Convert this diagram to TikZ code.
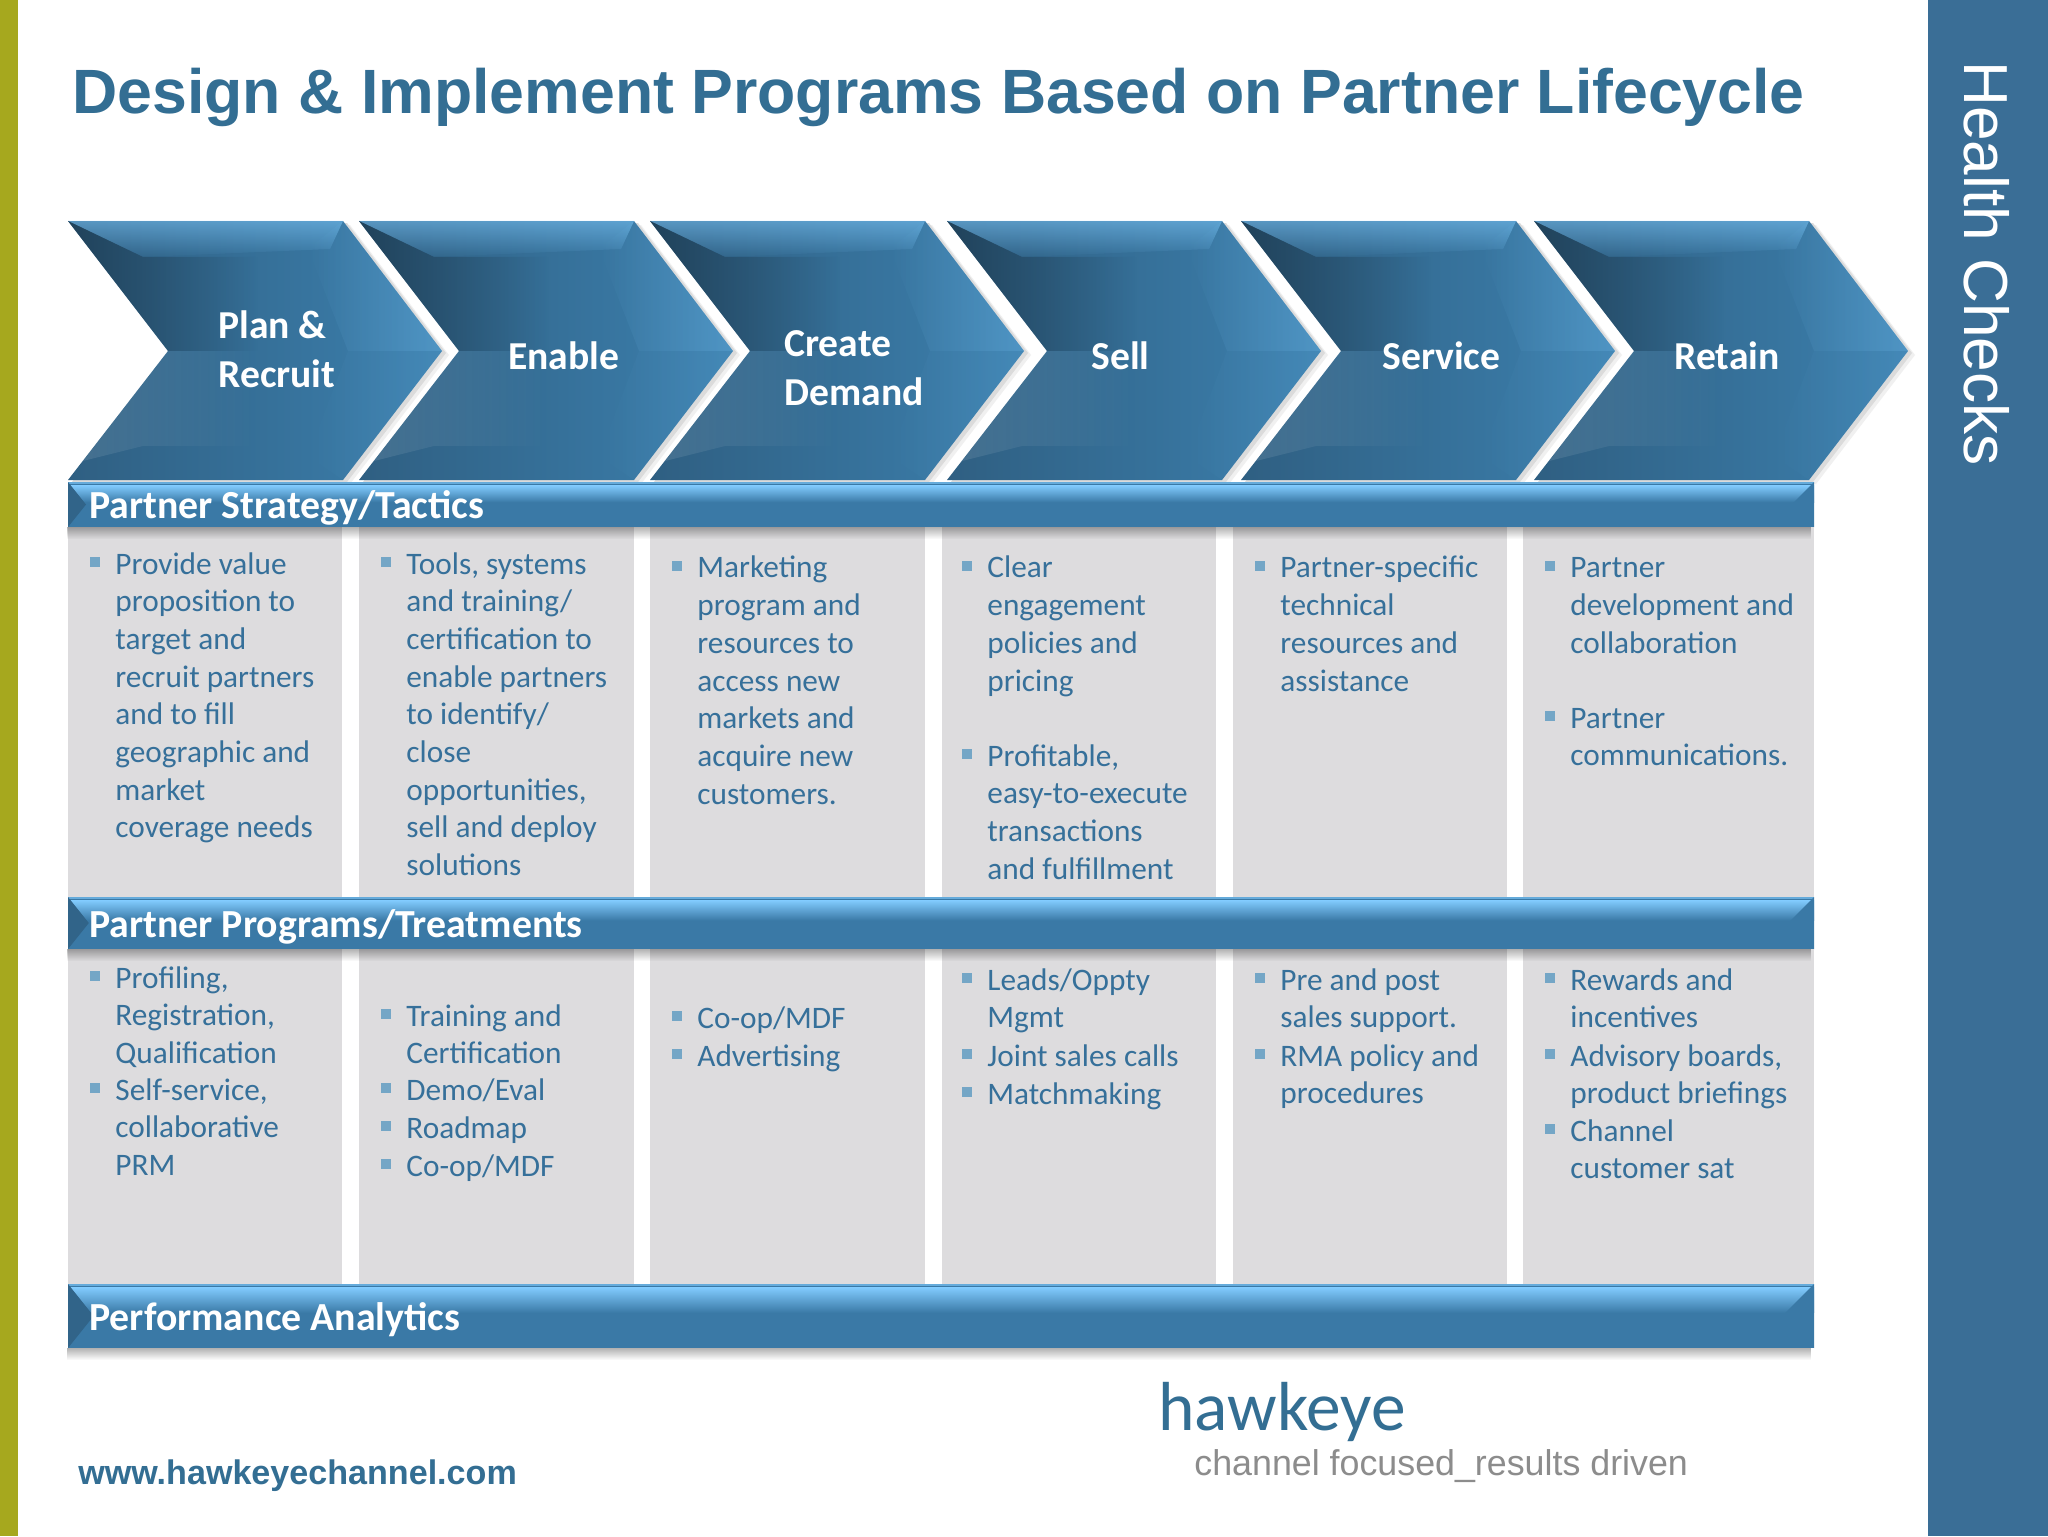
\documentclass[tikz,border=0pt]{standalone}
\usepackage{fontspec}
\setmainfont{Carlito}
\newfontfamily\arialfont{Liberation Sans}
\usetikzlibrary{fadings}
\definecolor{hkblue}{HTML}{336E93}
\definecolor{sidebar}{HTML}{3A6E96}
\definecolor{olivebar}{HTML}{A6A81E}
\definecolor{colgrey}{HTML}{DDDCDE}
\definecolor{bodyblue}{HTML}{36709A}
\definecolor{bulletblue}{HTML}{74A6C6}
\definecolor{chevdark}{HTML}{2F5F82}
\definecolor{chevlight}{HTML}{3C80AE}
\definecolor{barlight}{HTML}{82CCFF}
\definecolor{barmid}{HTML}{3A79A6}
\tikzset{
  chevlabel/.style={anchor=base west,inner sep=0pt,text=white,font=\fontsize{19.8}{24}\selectfont\bfseries,align=left},
  barlabel/.style={anchor=base west,inner sep=0pt,text=white,font=\fontsize{19.9}{24}\selectfont\bfseries},
  itemtext/.style={anchor=north west,inner sep=0pt,text=bodyblue,align=left,font=\fontsize{15.65}{18.85}\selectfont},
  bulletbox/.style={fill=bulletblue,inner sep=0pt,minimum size=5pt},
  column/.style={fill=colgrey}
}
% chevron shape, drawn from its top left corner
\newcommand{\chevpath}{(0,0) -- (275,0) -- (374,130) -- (275,259) -- (0,259) -- (100,130) -- cycle}
% name, x, baseline y, text
\newcommand{\bulltext}[4]{%
  \node[bulletbox] (#1b) at (#2-20,#3-13) {};
  \node[itemtext] (#1) at (#2,#3-27.8) {\strut #4};}
% x, y, height of the bar
\newcommand{\bluebar}[2]{%
  \fill[black,opacity=.3,path fading=south] (68,#2) rectangle (1814,#2+12);
  \fill[barmid] (68,#1) rectangle (1814,#2);
  \shade[top color=barlight,bottom color=barmid] (68,#1+3) rectangle (1814,{#1+0.45*(#2-#1)});
  \fill[barlight!60!barmid] (68,#1) rectangle (1814,#1+2);
  \fill[chevdark!80!barmid] (68,#1) -- ({68+0.4*(#2-#1)},{#1+0.5*(#2-#1)}) -- (68,#2) -- cycle;
  \fill[barmid] (1814,#1) -- ({1814-0.5*(#2-#1)},{#1+0.5*(#2-#1)}) -- (1814,#2) -- cycle;}
\begin{document}
\begin{tikzpicture}[x=0.5pt,y=-0.5pt]
  \useasboundingbox (0,0) rectangle (2048,1536);
  \fill[white] (0,0) rectangle (2048,1536);
  \fill[olivebar] (0,0) rectangle (18,1536);
  \fill[sidebar] (1928,0) rectangle (2048,1536);

  \node[anchor=base west,inner sep=0pt,text=hkblue,font=\arialfont\fontsize{31.3}{36}\selectfont\bfseries] (title) at (72,113)
    {Design \& Implement Programs Based on Partner Lifecycle};
  \node[rotate=-90,anchor=base west,inner sep=0pt,text=white,font=\arialfont\fontsize{31.1}{36}\selectfont] (health) at (1964,61) {Health Checks};

  % grey columns
  \foreach \xa/\xb in {68/342,359/634,650/925,942/1216,1233/1507,1523/1814}
    \fill[column] (\xa,527) rectangle (\xb,1285);

  % chevrons
  \foreach \cx in {68,359,650,947,1241,1534} {
    \begin{scope}[shift={(\cx,221)}]
      \fill[black!6] [shift={(7,4)}] \chevpath;
      \fill[black!14] [shift={(4,2)}] \chevpath;
      \shade[left color=chevdark,right color=chevlight] \chevpath;
      \fill[barlight,opacity=.5,path fading=south] (0,0) -- (275,0) -- (262,28) -- (75,36) -- cycle;
      \fill[black!40!chevdark,opacity=.75,path fading=east] (0,0) -- (75,36) -- (190,36) -- (190,130) -- (100,130) -- cycle;
      \fill[barlight,opacity=.28,path fading=west] (275,0) -- (374,130) -- (280,130) -- (240,28) -- cycle;
      \fill[barlight,opacity=.12,path fading=west] (374,130) -- (275,259) -- (240,235) -- (280,130) -- cycle;
      \fill[white,opacity=.1,path fading=east] (100,130) -- (15,240) -- (75,225) -- (190,225) -- (190,130) -- cycle;
    \end{scope}
  }

  % bars
  \bluebar{482}{527}
  \bluebar{897}{949}
  \bluebar{1284}{1348}

  % chevron labels
  \node[chevlabel] (plan) at (218,338) {Plan \&};
  \node[chevlabel] (recruit) at (218,387) {Recruit};
  \node[chevlabel] (enable) at (508,369) {Enable};
  \node[chevlabel] (create) at (784,356) {Create};
  \node[chevlabel] (demand) at (784,405) {Demand};
  \node[chevlabel] (sell) at (1091,369) {Sell};
  \node[chevlabel] (service) at (1382,369) {Service};
  \node[chevlabel] (retain) at (1674,369) {Retain};

  % bar labels
  \node[barlabel] (strategy) at (89,518) {Partner Strategy/Tactics};
  \node[barlabel] (programs) at (89,937) {Partner Programs/Treatments};
  \node[barlabel] (analytics) at (89,1330) {Performance Analytics};

  % strategy row
  \bulltext{sa}{115}{575}{Provide value\\proposition to\\target and\\recruit partners\\and to fill\\geographic and\\market\\coverage needs}
  \bulltext{sb}{406}{575}{Tools, systems\\and training/\\certification to\\enable partners\\to identify/\\close\\opportunities,\\sell and deploy\\solutions}
  \bulltext{sc}{697}{579}{Marketing\\program and\\resources to\\access new\\markets and\\acquire new\\customers.}
  \bulltext{sd}{987}{579}{Clear\\engagement\\policies and\\pricing}
  \bulltext{se}{987}{767}{Profitable,\\easy-to-execute\\transactions\\and fulfillment}
  \bulltext{sf}{1280}{579}{Partner-specific\\technical\\resources and\\assistance}
  \bulltext{sg}{1570}{579}{Partner\\development and\\collaboration}
  \bulltext{sh}{1570}{729}{Partner\\communications.}

  % programs row
  \bulltext{pa}{115}{989}{Profiling,\\Registration,\\Qualification}
  \bulltext{pb}{115}{1101}{Self-service,\\collaborative\\PRM}
  \bulltext{pc}{406}{1027}{Training and\\Certification}
  \bulltext{pd}{406}{1101}{Demo/Eval}
  \bulltext{pe}{406}{1139}{Roadmap}
  \bulltext{pf}{406}{1177}{Co-op/MDF}
  \bulltext{pg}{697}{1029}{Co-op/MDF}
  \bulltext{ph}{697}{1067}{Advertising}
  \bulltext{pi}{987}{991}{Leads/Oppty\\Mgmt}
  \bulltext{pj}{987}{1067}{Joint sales calls}
  \bulltext{pk}{987}{1105}{Matchmaking}
  \bulltext{pl}{1280}{991}{Pre and post\\sales support.}
  \bulltext{pm}{1280}{1067}{RMA policy and\\procedures}
  \bulltext{pn}{1570}{991}{Rewards and\\incentives}
  \bulltext{po}{1570}{1067}{Advisory boards,\\product briefings}
  \bulltext{pp}{1570}{1142}{Channel\\customer sat}

  % footer
  \node[anchor=base west,inner sep=0pt,text=hkblue,font=\arialfont\fontsize{17.05}{20}\selectfont\bfseries] (web) at (78,1484) {www.hawkeyechannel.com};
  \node[anchor=base west,inner sep=0pt,text=hkblue,font=\fontsize{34.7}{36}\selectfont] (hawkeye) at (1158,1430) {hawkeye};
  \node[anchor=base west,inner sep=0pt,text=black!45,font=\arialfont\fontsize{17.9}{20}\selectfont] (tagline) at (1194,1475) {channel focused\_results driven};
\end{tikzpicture}
\end{document}
